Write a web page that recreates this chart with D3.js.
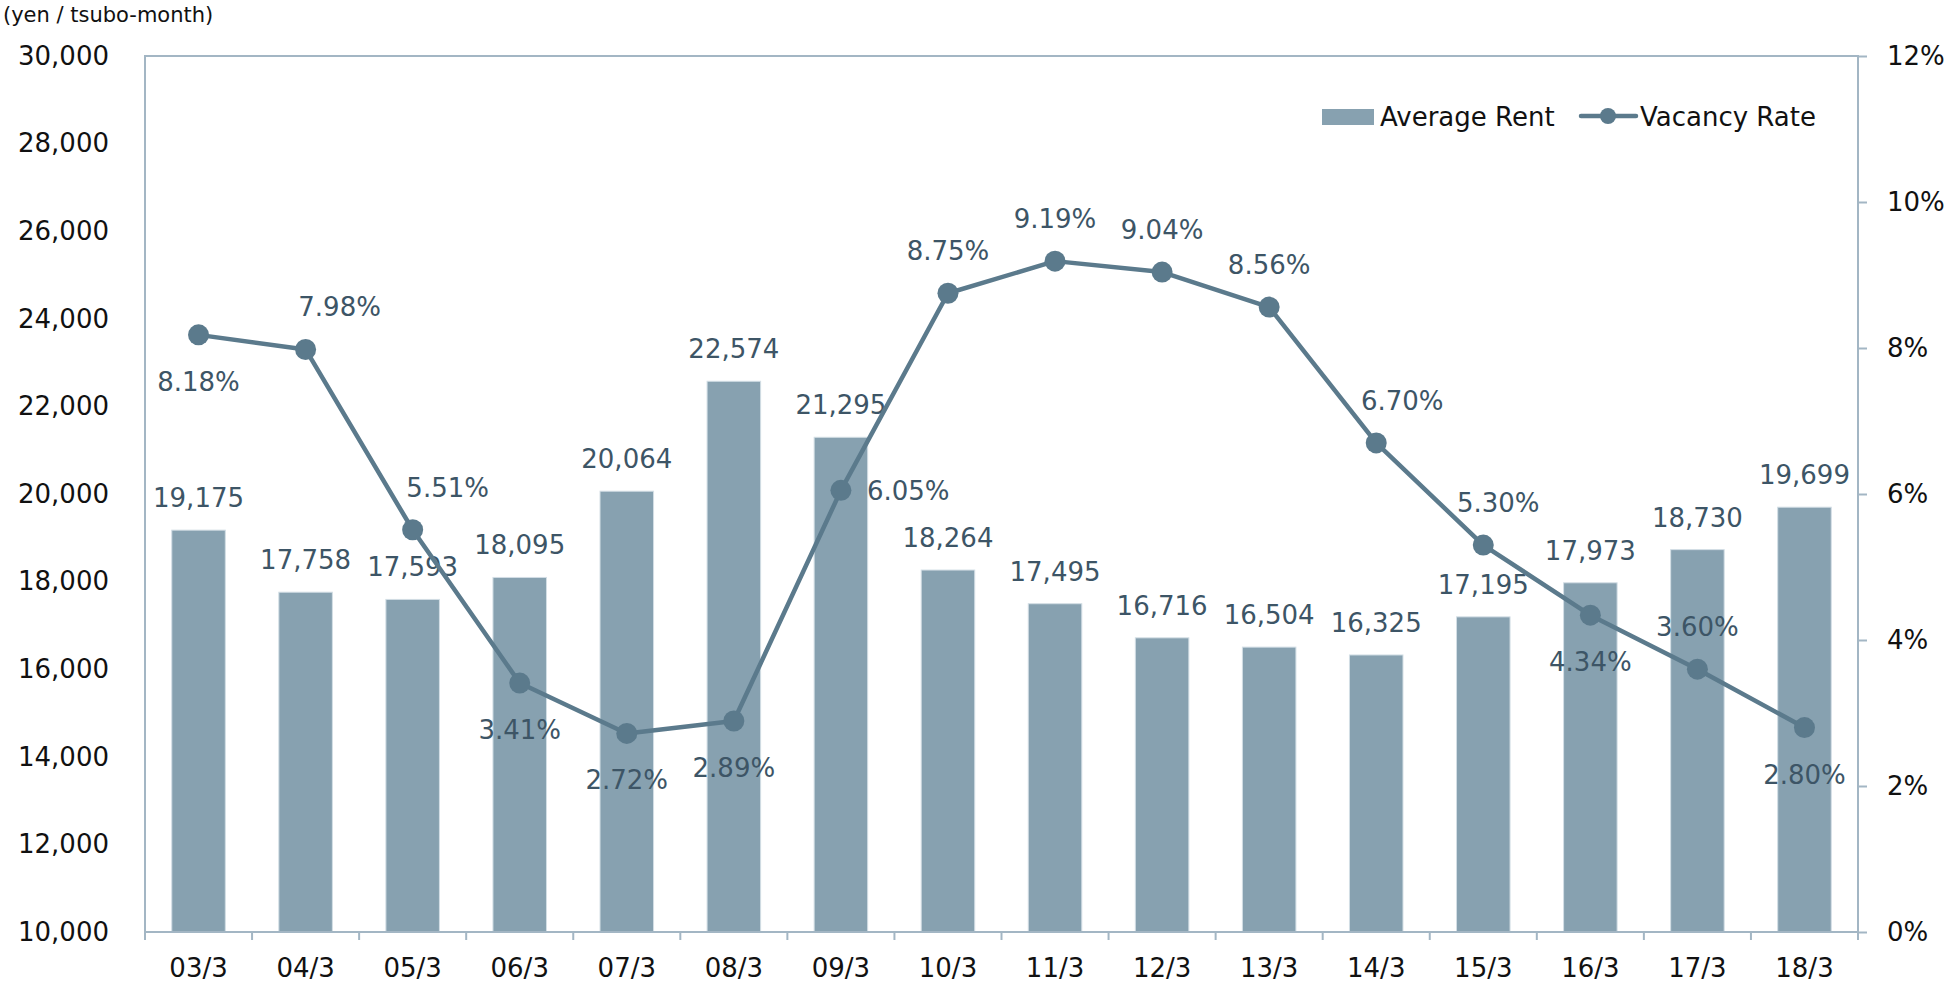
<!DOCTYPE html>
<html lang="en">
<head>
<meta charset="UTF-8">
<title>Average Rent and Vacancy Rate</title>
<style>
  body { margin: 0; background: #fff; }
  text { font-family: "DejaVu Sans", Verdana, sans-serif; }
</style>
</head>
<body>
<svg width="1949" height="983"></svg>

<script src="https://d3js.org/d3.v7.min.js"></script>
<script>
// data
var periods = ["03/3","04/3","05/3","06/3","07/3","08/3","09/3","10/3","11/3","12/3","13/3","14/3","15/3","16/3","17/3","18/3"];
var avgRent = [19175,17758,17593,18095,20064,22574,21295,18264,17495,16716,16504,16325,17195,17973,18730,19699];
var vacancy = [8.18,7.98,5.51,3.41,2.72,2.89,6.05,8.75,9.19,9.04,8.56,6.70,5.30,4.34,3.60,2.80];
var rentTicks = [10000,12000,14000,16000,18000,20000,22000,24000,26000,28000,30000];
var vacTicks = [0,2,4,6,8,10,12];

// where each vacancy label sits relative to its point
var vacLabelPlace = ["below","above","above","below","below","below","right","above","above","above","above","above","above","below","above","below"];
var vacLabelShift = [0,34,35,0,0,0,0,0,0,0,0,26,15,0,0,0];

var barColor = "#87a1b0";
var lineColor = "#5b7a8c";
var labelColor = "#3d5566";
var axisColor = "#a3b6c4";

var svg = d3.select("svg");
var plotL = 145, plotR = 1858, plotT = 56, plotB = 932;

var x = d3.scaleBand()
    .domain(periods)
    .range([plotL, plotR])
    .paddingInner(0.5)
    .paddingOuter(0.25);

var yRent = d3.scaleLinear().domain([10000, 30000]).range([plotB, plotT]);
var yVac = d3.scaleLinear().domain([0, 12]).range([plotB, plotT]);

var rows = periods.map(function(p, i){
    return {p: p, rent: avgRent[i], vac: vacancy[i], place: vacLabelPlace[i], shift: vacLabelShift[i]};
});

// y title
svg.append("text")
    .attr("x", 3).attr("y", 22)
    .attr("font-size", 21)
    .attr("fill", "#111")
    .text("(yen / tsubo-month)");

// left axis labels
var la = svg.append("g")
    .attr("transform", "translate(" + (plotL - 36) + ",0)")
    .call(d3.axisLeft(yRent).tickValues(rentTicks).tickSize(0).tickPadding(0).tickFormat(d3.format(",")));
la.select(".domain").remove();
la.selectAll("text").attr("font-size", 26).attr("fill", "#111").attr("font-family", "DejaVu Sans");

// right axis
var ra = svg.append("g")
    .attr("transform", "translate(" + plotR + ",0)")
    .call(d3.axisRight(yVac).tickValues(vacTicks).tickSize(9).tickPadding(20).tickFormat(function(d){ return d + "%"; }));
ra.select(".domain").remove();
ra.selectAll("line").attr("stroke", axisColor).attr("stroke-width", 2);
ra.selectAll("text").attr("font-size", 26).attr("fill", "#111").attr("font-family", "DejaVu Sans");

// bottom axis labels
var ba = svg.append("g")
    .attr("transform", "translate(0," + plotB + ")")
    .call(d3.axisBottom(x).tickSize(0).tickPadding(27));
ba.select(".domain").remove();
ba.selectAll("text").attr("font-size", 26).attr("fill", "#111").attr("font-family", "DejaVu Sans");

// category boundary ticks
svg.append("g").selectAll("line")
    .data(d3.range(periods.length + 1))
    .enter().append("line")
    .attr("x1", function(i){ return plotL + i * x.step(); })
    .attr("x2", function(i){ return plotL + i * x.step(); })
    .attr("y1", plotB).attr("y2", plotB + 8)
    .attr("stroke", axisColor).attr("stroke-width", 2);

// bars
svg.append("g").selectAll("rect")
    .data(rows)
    .enter().append("rect")
    .attr("x", function(d){ return x(d.p); })
    .attr("width", x.bandwidth())
    .attr("y", function(d){ return yRent(d.rent); })
    .attr("height", function(d){ return yRent(10000) - yRent(d.rent); })
    .attr("fill", barColor)
    .attr("stroke", "#d3dee5")
    .attr("stroke-width", 1);

// plot frame
svg.append("rect")
    .attr("x", plotL).attr("y", plotT)
    .attr("width", plotR - plotL).attr("height", plotB - plotT)
    .attr("fill", "none")
    .attr("stroke", axisColor)
    .attr("stroke-width", 2);

// bar labels
svg.append("g").selectAll("text")
    .data(rows)
    .enter().append("text")
    .attr("x", function(d){ return x(d.p) + x.bandwidth() / 2; })
    .attr("y", function(d){ return yRent(d.rent) - 23; })
    .attr("text-anchor", "middle")
    .attr("font-size", 26)
    .attr("fill", labelColor)
    .text(function(d){ return d3.format(",")(d.rent); });

// vacancy line
var cx = function(d){ return x(d.p) + x.bandwidth() / 2; };
var line = d3.line()
    .x(cx)
    .y(function(d){ return yVac(d.vac); });

svg.append("path")
    .datum(rows)
    .attr("d", line)
    .attr("fill", "none")
    .attr("stroke", lineColor)
    .attr("stroke-width", 4.5)
    .attr("stroke-linejoin", "round");

svg.append("g").selectAll("circle")
    .data(rows)
    .enter().append("circle")
    .attr("cx", cx)
    .attr("cy", function(d){ return yVac(d.vac); })
    .attr("r", 10.5)
    .attr("fill", lineColor);

// vacancy labels
svg.append("g").selectAll("text")
    .data(rows)
    .enter().append("text")
    .attr("x", function(d){
        if (d.place == "right") return cx(d) + 26;
        return cx(d) + d.shift;
    })
    .attr("y", function(d){
        var py = yVac(d.vac);
        if (d.place == "above") return py - 33;
        if (d.place == "below") return py + 56;
        return py + 10;
    })
    .attr("text-anchor", function(d){ return d.place == "right" ? "start" : "middle"; })
    .attr("font-size", 26)
    .attr("fill", labelColor)
    .text(function(d){ return d.vac.toFixed(2) + "%"; });

// legend
var lg = svg.append("g");
lg.append("rect")
    .attr("x", 1322).attr("y", 109)
    .attr("width", 52).attr("height", 16)
    .attr("fill", barColor);
lg.append("text")
    .attr("x", 1380).attr("y", 126)
    .attr("font-size", 26).attr("fill", "#111")
    .text("Average Rent");
lg.append("line")
    .attr("x1", 1581).attr("x2", 1636)
    .attr("y1", 116).attr("y2", 116)
    .attr("stroke", lineColor).attr("stroke-width", 4.5)
    .attr("stroke-linecap", "round");
lg.append("circle")
    .attr("cx", 1608).attr("cy", 116).attr("r", 8)
    .attr("fill", lineColor);
lg.append("text")
    .attr("x", 1640).attr("y", 126)
    .attr("font-size", 26).attr("fill", "#111")
    .text("Vacancy Rate");
</script>
</body>
</html>
